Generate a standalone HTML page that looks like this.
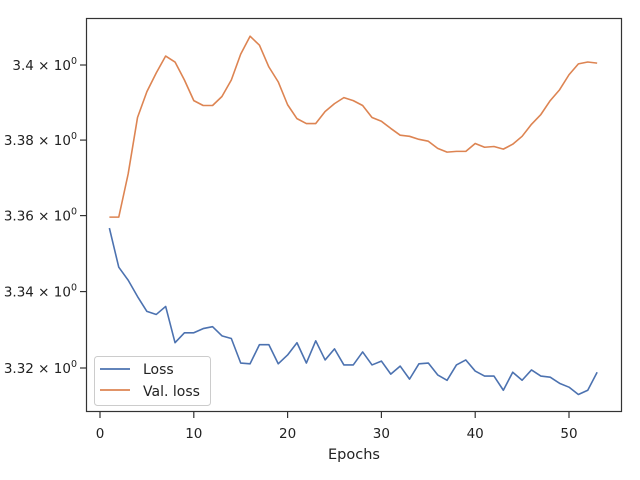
<!DOCTYPE html>
<html><head><meta charset="utf-8"><style>
body{margin:0;background:#fff;}
svg{display:block;font-family:"DejaVu Sans","Liberation Sans",sans-serif;}
</style></head><body>
<svg id="chart" width="640" height="480" viewBox="0 0 640 480">
<rect width="640" height="480" fill="#fff"/>
<g id="ticks"></g>
<g id="lines"></g>
<rect x="86.5" y="18.5" width="535" height="393" fill="none" stroke="#333" stroke-width="1.2"/>
<text x="354" y="459" font-size="14.5" text-anchor="middle" fill="#222">Epochs</text>
<g>
<rect x="94.5" y="356.5" width="116" height="49" rx="3" fill="#fff" fill-opacity="0.8" stroke="#ccc"/>
<line x1="100" y1="369" x2="130" y2="369" stroke="#4c72b0" stroke-width="1.8"/>
<text x="143" y="374" font-size="14" fill="#222">Loss</text>
<line x1="100" y1="390" x2="130" y2="390" stroke="#dd8452" stroke-width="1.8"/>
<text x="143" y="396" font-size="14" fill="#222">Val. loss</text>
</g>
</svg>
<script>
const epochs = Array.from({length:53},(_, i)=>i+1);
const lossValues = [3.3567,3.3464,3.3430,3.3387,3.3348,3.3340,3.3361,3.3266,3.3292,3.3292,3.3303,3.3308,3.3284,3.3277,3.3213,3.3211,3.3261,3.3261,3.3211,3.3234,3.3266,3.3213,3.3271,3.3221,3.3250,3.3208,3.3208,3.3242,3.3208,3.3218,3.3184,3.3205,3.3171,3.3211,3.3213,3.3182,3.3168,3.3208,3.3221,3.3192,3.3179,3.3179,3.3142,3.3189,3.3168,3.3195,3.3179,3.3176,3.3160,3.3150,3.3131,3.3142,3.3189];
const valLossValues = [3.3596,3.3596,3.3710,3.3860,3.3929,3.3979,3.4024,3.4008,3.3960,3.3905,3.3892,3.3892,3.3916,3.3960,3.4029,3.4077,3.4053,3.3995,3.3955,3.3894,3.3857,3.3844,3.3844,3.3876,3.3897,3.3913,3.3905,3.3892,3.3860,3.3850,3.3831,3.3813,3.3810,3.3802,3.3797,3.3778,3.3768,3.3770,3.3770,3.3791,3.3781,3.3783,3.3776,3.3789,3.3810,3.3842,3.3868,3.3905,3.3934,3.3974,3.4003,3.4008,3.4005];
const xTicks = [0,10,20,30,40,50];
const yTicks = [3.32,3.34,3.36,3.38,3.4];
const yTickLabels = ["3.32","3.34","3.36","3.38","3.4"];
const NS="http://www.w3.org/2000/svg";
const xS = v => 100 + v*9.38;
const yS = v => 368 - (Math.log(v)-Math.log(3.32))*12725;
const tg=document.getElementById('ticks'), lg=document.getElementById('lines');
function mk(t,a){const e=document.createElementNS(NS,t);for(const k in a)e.setAttribute(k,a[k]);return e;}
xTicks.forEach(t=>{
  const l=mk('line',{x1:xS(t),x2:xS(t),y1:412,y2:418,stroke:'#333','stroke-width':1.2});
  
  
  tg.appendChild(l);
  const tx=mk('text',{x:xS(t),y:438,'font-size':13.5,'text-anchor':'middle',fill:'#222'});
  tx.textContent=t;
  
  
  tg.appendChild(tx);
});
yTicks.forEach((t,i)=>{
  const y=yS(t);
  const l=mk('line',{x1:80,x2:86,y1:y,y2:y,stroke:'#333','stroke-width':1.2});
  
  
  tg.appendChild(l);
  const tx=mk('text',{x:77,y:y+5,'font-size':13.5,'text-anchor':'end',fill:'#222'});
  tx.innerHTML=yTickLabels[i]+' × 10<tspan dy="-6" font-size="9.5">0</tspan>';
  
  
  tg.appendChild(tx);
});
function line(vals,color,name){
  const p=mk('polyline',{points:vals.map((v,i)=>xS(epochs[i])+','+yS(v)).join(' '),fill:'none',stroke:color,'stroke-width':1.6,'stroke-linejoin':'round'});
  
  
  lg.appendChild(p);
}
line(lossValues,'#4c72b0','loss-line');
line(valLossValues,'#dd8452','val-loss-line');
</script>
</body></html>
